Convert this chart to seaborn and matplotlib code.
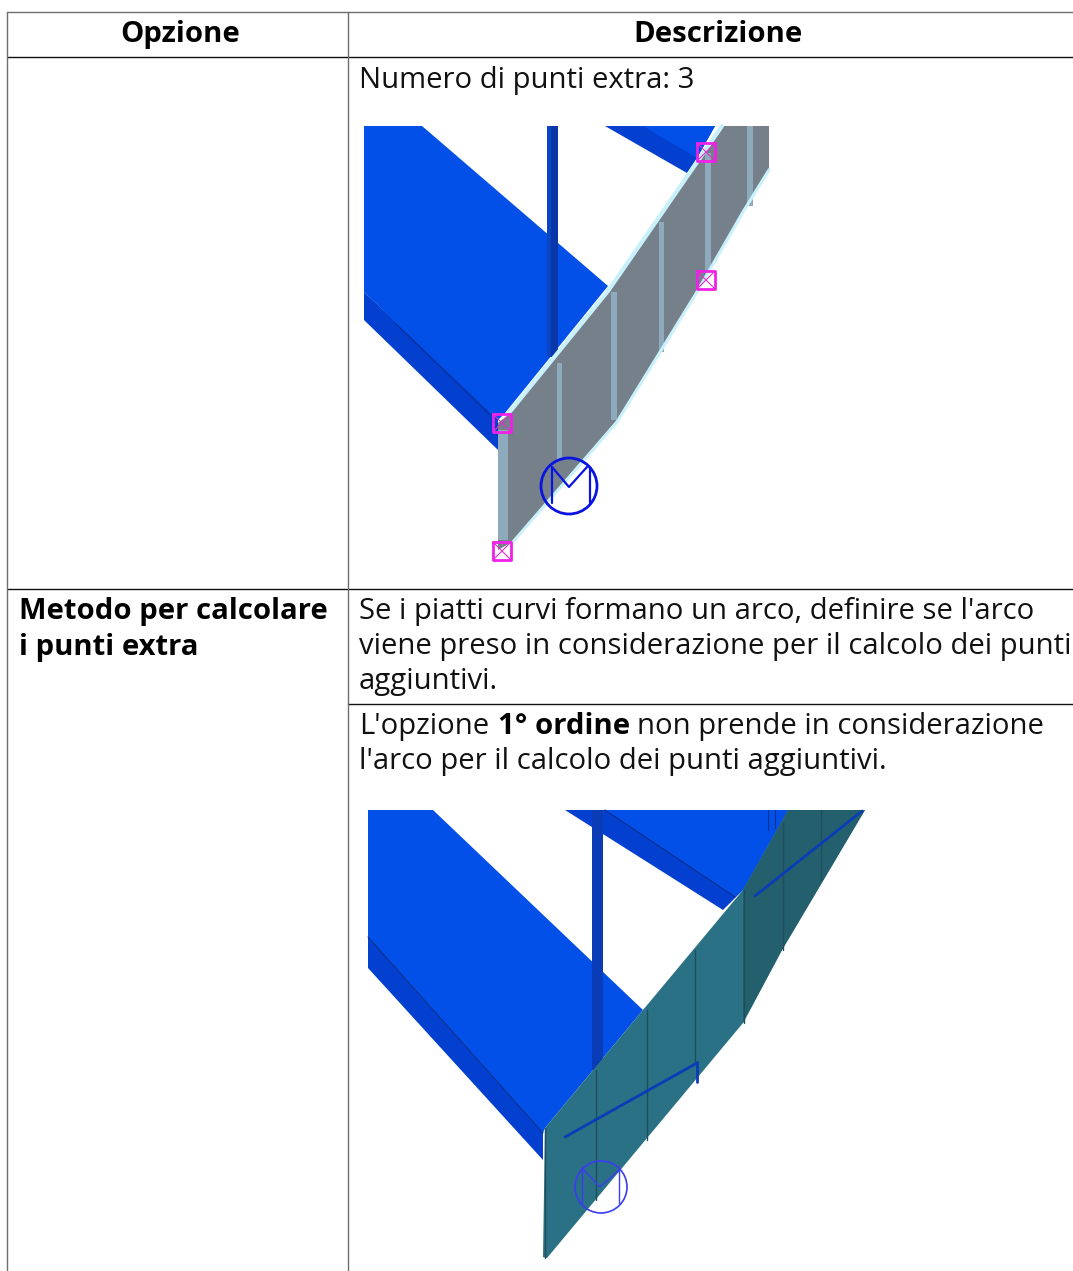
import matplotlib
matplotlib.use('Agg')
import matplotlib.pyplot as plt
import seaborn as sns

# table text
headers = ['Opzione', 'Descrizione']
row1_text = 'Numero di punti extra: 3'
option_lines = ['Metodo per calcolare', 'i punti extra']
desc_lines = ['Se i piatti curvi formano un arco, definire se l\'arco',
              'viene preso in considerazione per il calcolo dei punti',
              'aggiuntivi.']
note_parts = ["L'opzione", '1° ordine', 'non prende in considerazione']
note_line2 = "l'arco per il calcolo dei punti aggiuntivi."

# table rules (x0, y0, x1, y1, colour)
rules = [
    (7, 12, 1073, 12, '#6e6e6e'),
    (7, 57, 1073, 57, '#111111'),
    (7, 589, 1073, 589, '#111111'),
    (348, 704, 1073, 704, '#111111'),
    (7, 12, 7, 1271, '#6e6e6e'),
    (348, 12, 348, 1271, '#6e6e6e'),
]

# first picture
top_plate = [(364, 126), (422, 126), (608, 286), (505, 413), (498, 420), (364, 292)]
top_side = [(364, 292), (498, 417), (498, 450), (364, 320)]
top_seam = [(395, 323), (490, 415)]
top_far_side = [(605, 126), (715, 126), (697, 158), (687, 173)]
top_far_plate = [(643, 126), (715, 126), (697, 158)]
top_column = [(547, 126), (558, 126), (558, 357), (547, 357)]
top_column_light = [(547, 126), (551, 126), (551, 357), (547, 357)]
top_grey = [(498, 423), (508, 415), (608, 292), (722, 126), (769, 126), (769, 168), (743, 210),
            (697, 290), (617, 420), (512, 542), (498, 550)]
top_edge_up = [(508, 414), (608, 291), (722, 126)]
top_edge_low = [(512, 543), (617, 422), (697, 292), (743, 212), (769, 170)]
top_ribs = [(498, 508, 430, 540), (557, 562, 363, 460), (611, 617, 292, 420),
            (659, 664, 222, 352), (705, 711, 153, 270), (747, 753, 126, 206)]
top_squares = [(502, 423), (706, 152), (706, 280), (502, 551)]
top_circle = (569, 486, 28)
top_m_bars = [[(552, 467), (552, 503)], [(590, 467), (590, 503)]]
top_m = [(552, 467), (569, 487), (587, 467)]

# second picture
low_plate = [(368, 810), (433, 810), (643, 1010), (545, 1128), (543, 1133), (368, 937)]
low_side = [(368, 937), (543, 1133), (543, 1160), (368, 968)]
low_far_side = [(565, 810), (788, 810), (743, 890), (723, 910)]
low_far_plate = [(605, 810), (788, 810), (743, 890), (735, 897)]
low_column = [(592, 810), (603, 810), (603, 1070), (592, 1070)]
low_teal = [(545, 1128), (643, 1010), (743, 890), (788, 810), (865, 810), (782, 950),
            (743, 1023), (547, 1258), (543, 1257)]
low_teal_dark = [(743, 890), (788, 810), (865, 810), (782, 950), (743, 1023)]
low_ribs = [(545, 1128, 1258), (596, 1070, 1200), (647, 1010, 1140), (695, 950, 1063), (744, 890, 1023),
            (783, 823, 950), (821, 810, 880)]
low_seams = [[(368, 937), (543, 1133)], [(605, 810), (735, 897)],
             [(768, 810), (768, 830)], [(775, 810), (775, 828)]]
low_bars = [[(565, 1137), (697, 1063)], [(697, 1062), (697, 1082)], [(755, 896), (862, 811)]]
low_circle = (601, 1187, 26)
low_m_bars = [[(582, 1168), (582, 1203)], [(619, 1170), (619, 1203)]]
low_m = [(582, 1168), (600, 1187), (619, 1170)]

BLUE = '#0350e8'
SIDE = '#0340cf'

sns.set_theme(style='white')
plt.rcParams['font.family'] = ['Open Sans', 'DejaVu Sans']

fig = plt.figure(figsize=(10.73, 12.71), dpi=100)
ax = fig.add_axes([0, 0, 1, 1])


def poly(pts, color, z=2):
    ax.fill([p[0] for p in pts], [p[1] for p in pts], color=color, lw=0, zorder=z)


def path(pts, color, lw, z=3):
    sns.lineplot(x=[p[0] for p in pts], y=[p[1] for p in pts], ax=ax, color=color, lw=lw,
                 sort=False, estimator=None, zorder=z, legend=False)


for x0, y0, x1, y1, c in rules:
    path([(x0, y0), (x1, y1)], c, 1.0, 1)

# first picture
poly(top_side, SIDE)
poly(top_plate, BLUE)
path(top_seam, '#0a2f8e', 0.7, 3)
poly(top_far_side, SIDE)
poly(top_far_plate, BLUE)
poly(top_column, '#0a37a8', 3)
poly(top_column_light, '#0a46c4', 3)
poly(top_grey, '#75808a', 4)
for x0, x1, y0, y1 in top_ribs:
    poly([(x0, y0), (x1, y0), (x1, y1), (x0, y1)], '#8eaabd', 5)
path(top_edge_up, '#c9f1fb', 3.0, 6)
path(top_edge_low, '#c9f1fb', 2.2, 6)
for cx, cy in top_squares:
    path([(cx - 9, cy - 9), (cx + 9, cy - 9), (cx + 9, cy + 9), (cx - 9, cy + 9), (cx - 9, cy - 9)],
         '#f020e8', 2.0, 7)
    path([(cx - 8, cy - 8), (cx + 8, cy + 8)], '#e030d0', 0.8, 7)
    path([(cx - 8, cy + 8), (cx + 8, cy - 8)], '#e030d0', 0.8, 7)
ax.add_patch(plt.Circle(top_circle[:2], top_circle[2], fill=False, ec='#0a14e0', lw=2.0, zorder=8))
path(top_m, '#0a14e0', 1.6, 8)
for bar in top_m_bars:
    path(bar, '#0a14e0', 1.6, 8)

# second picture
poly(low_side, SIDE)
poly(low_plate, BLUE)
poly(low_far_side, SIDE)
poly(low_far_plate, BLUE)
poly(low_column, '#0a3cb8', 3)
for seam in low_seams:
    path(seam, '#0a2f8e', 0.8, 3)
poly(low_teal, '#2a7186', 4)
poly(low_teal_dark, '#245f6e', 4)
for x, y0, y1 in low_ribs:
    path([(x, y0), (x, y1)], '#1f4d5a', 1.0, 5)
for bar in low_bars:
    path(bar, '#0a3cb8', 2.0, 6)
ax.add_patch(plt.Circle(low_circle[:2], low_circle[2], fill=False, ec='#3a3cf0', lw=1.2, zorder=8))
path(low_m, '#3a3cf0', 1.0, 8)
for bar in low_m_bars:
    path(bar, '#3a3cf0', 1.0, 8)

# text, sizes given in px at dpi 100
FS = 29.3 * 0.72
ax.text(180, 42, headers[0], ha='center', va='baseline', fontsize=FS, fontweight='bold', color='black')
ax.text(718, 42, headers[1], ha='center', va='baseline', fontsize=FS, fontweight='bold', color='black')
ax.text(359, 88, row1_text, fontsize=FS, color='#111111')
for y, s in zip([619, 655], option_lines):
    ax.text(19, y, s, fontsize=FS, fontweight='bold', color='black')
for y, s in zip([619, 654, 689], desc_lines):
    ax.text(359, y, s, fontsize=FS, color='#111111')
ax.text(359, 734, note_parts[0], fontsize=FS, color='#111111')
ax.text(498, 734, note_parts[1], fontsize=FS, fontweight='bold', color='black')
ax.text(637, 734, note_parts[2], fontsize=FS, color='#111111')
ax.text(359, 769, note_line2, fontsize=FS, color='#111111')

ax.set_xlim(0, 1073)
ax.set_ylim(1271, 0)
ax.axis('off')
fig.savefig('out.png', dpi=100)
